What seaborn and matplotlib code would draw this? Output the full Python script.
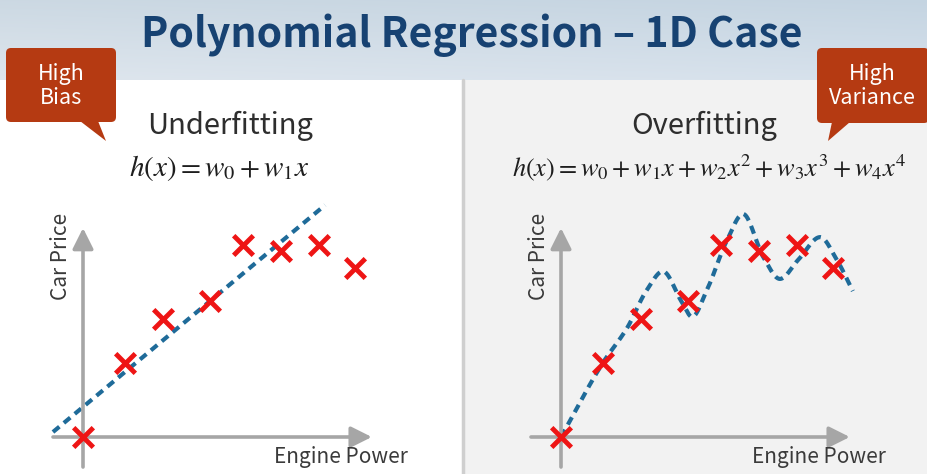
import numpy as np
import pandas as pd
import matplotlib
matplotlib.use("Agg")
import matplotlib.pyplot as plt
from matplotlib.patches import FancyBboxPatch, Polygon, Rectangle
import seaborn as sns

# ---------------- data ----------------
engine_power = [0.0, 1.1, 2.1, 3.35, 4.2, 5.2, 6.2, 7.15]
car_price = [0.0, 1.95, 3.1, 3.58, 5.05, 4.9, 5.05, 4.45]

# underfitting: straight line h(x) = w0 + w1 x
w0, w1 = 0.79, 0.834
line_x = [-0.79, 6.37]

# overfitting: wiggly curve through these read-off knots
curve_x = [0.0, 1.1, 1.74, 2.26, 2.68, 3.18, 3.45, 3.84, 4.37, 4.79, 5.32, 5.76, 6.24, 6.82, 7.26, 7.68]
curve_y = [0.0, 1.95, 2.87, 3.87, 4.36, 3.55, 3.16, 3.87, 5.18, 5.87, 4.74, 4.16, 4.66, 5.26, 4.66, 3.84]

title = "Polynomial Regression \u2013 1D Case"
panel_titles = ["Underfitting", "Overfitting"]
formulas = [r"$h(x) = w_0 + w_1 x$",
            r"$h(x) = w_0 + w_1 x + w_2 x^2 + w_3 x^3 + w_4 x^4$"]
callouts = ["High\nBias", "High\nVariance"]
xlabel = "Engine Power"
ylabel = "Car Price"


def pchip(xk, yk, n=40):
    xk = np.asarray(xk, float)
    yk = np.asarray(yk, float)
    h = np.diff(xk)
    d = np.diff(yk) / h
    m = np.zeros_like(yk)
    m[0], m[-1] = d[0], d[-1]
    for i in range(1, len(xk) - 1):
        if d[i - 1] * d[i] <= 0:
            m[i] = 0.0
        else:
            a = 2 * h[i] + h[i - 1]
            b = h[i] + 2 * h[i - 1]
            m[i] = (a + b) / (a / d[i - 1] + b / d[i])
    xs, ys = [], []
    for i in range(len(xk) - 1):
        t = np.linspace(0, 1, n, endpoint=(i == len(xk) - 2))
        h00 = 2 * t**3 - 3 * t**2 + 1
        h10 = t**3 - 2 * t**2 + t
        h01 = -2 * t**3 + 3 * t**2
        h11 = t**3 - t**2
        xs.append(xk[i] + t * h[i])
        ys.append(h00 * yk[i] + h10 * h[i] * m[i] + h01 * yk[i + 1] + h11 * h[i] * m[i + 1])
    return np.concatenate(xs), np.concatenate(ys)


sns.set_theme(style="white")
plt.rcParams["font.family"] = ["Noto Sans CJK KR", "DejaVu Sans"]
plt.rcParams["mathtext.fontset"] = "stix"

W, H = 927, 474
fig = plt.figure(figsize=(W / 100, H / 100), dpi=100)
fig.patch.set_facecolor("white")

# background / decoration axes in pixel coordinates
bg = fig.add_axes([0, 0, 1, 1])
bg.set_xlim(0, W)
bg.set_ylim(H, 0)
bg.axis("off")

# header gradient
grad = np.linspace(0, 1, 80)[:, None] * np.ones((1, 200))
horiz = np.linspace(0, 1, 200)[None, :] * np.ones((80, 1))
top = np.array([0.80, 0.85, 0.89])
bot = np.array([0.87, 0.90, 0.93])
img = top[None, None, :] * (1 - grad[..., None]) + bot[None, None, :] * grad[..., None]
img = img - 0.03 * horiz[..., None] * np.array([1.0, 0.6, 0.2])
bg.imshow(np.clip(img, 0, 1), extent=[0, W, 80, 0], aspect="auto", zorder=0)

# panels
bg.add_patch(Rectangle((0, 80), 463, H - 80, facecolor="white", edgecolor="none", zorder=1))
bg.add_patch(Rectangle((464, 80), W - 464, H - 80, facecolor="#f2f2f2", edgecolor="none", zorder=1))
bg.plot([463.5, 463.5], [80, H], color="#cfcfcf", lw=2.5, zorder=2)

bg.text(472, 47, title, ha="center", va="baseline", fontsize=29.5,
        color="#174272", fontweight="bold", zorder=3)

# callouts
box_color = "#b53a12"
bg.add_patch(FancyBboxPatch((6, 48), 110, 74, boxstyle="round,pad=0,rounding_size=5",
                            facecolor=box_color, edgecolor="none", zorder=3))
bg.add_patch(Polygon([(80, 121), (98, 121), (106, 141)], closed=True,
                     facecolor=box_color, edgecolor="none", zorder=3))
bg.add_patch(FancyBboxPatch((817, 48), 112, 75, boxstyle="round,pad=0,rounding_size=5",
                            facecolor=box_color, edgecolor="none", zorder=3))
bg.add_patch(Polygon([(832, 122), (850, 122), (828, 141)], closed=True,
                     facecolor=box_color, edgecolor="none", zorder=3))
bg.text(61, 86, callouts[0], ha="center", va="center", fontsize=15.5, color="white",
        linespacing=1.12, zorder=4)
bg.text(872, 86, callouts[1], ha="center", va="center", fontsize=15.5, color="white",
        linespacing=1.12, zorder=4)

# panel titles and formulas
for cx, ptitle, fx, formula, fs in [(230, panel_titles[0], 219, formulas[0], 21),
                                     (704, panel_titles[1], 709, formulas[1], 19)]:
    bg.text(cx, 134, ptitle, ha="center", va="baseline", fontsize=21, color="#2e2e2e", zorder=3)
    bg.text(fx, 176, formula, ha="center", va="baseline", fontsize=fs, color="#1e1e1e", zorder=3)

# ---------------- plot axes ----------------
xlim = ((40 - 83) / 38, (420 - 83) / 38)
ylim = ((437 - 470) / 38, (437 - 195) / 38)
ax_pos = [[40 / W, (H - 470) / H, 380 / W, 275 / H],
          [518 / W, (H - 470) / H, 380 / W, 275 / H]]

axes = []
for pos in ax_pos:
    ax = fig.add_axes(pos)
    ax.set_facecolor("none")
    ax.set_xlim(*xlim)
    ax.set_ylim(*ylim)
    ax.axis("off")
    arrow = dict(arrowstyle="-|>,head_length=0.7,head_width=0.35", color="#a6a6a6",
                 lw=2.6, shrinkA=0, shrinkB=0, mutation_scale=18)
    ax.annotate("", xy=(0, 5.5), xytext=(0, -0.79), arrowprops=arrow)
    ax.annotate("", xy=(7.6, 0), xytext=(-0.79, 0), arrowprops=arrow)
    ax.text(-0.58, 4.74, ylabel, rotation=90, ha="center", va="center",
            fontsize=15, color="#3a3a3a")
    ax.text(8.55, -0.53, xlabel, ha="right", va="center", fontsize=15, color="#3a3a3a")
    axes.append(ax)

dash = (0, (2.0, 1.4))
blue = "#1f6b99"
red = "#ee1515"

line_df = pd.DataFrame({"x": line_x, "y": [w0 + w1 * v for v in line_x]})
sns.lineplot(data=line_df, x="x", y="y", ax=axes[0], color=blue, linewidth=3,
             linestyle=dash, estimator=None, sort=False, legend=False, zorder=2)

cx_s, cy_s = pchip(curve_x, curve_y)
curve_df = pd.DataFrame({"x": cx_s, "y": cy_s})
sns.lineplot(data=curve_df, x="x", y="y", ax=axes[1], color=blue, linewidth=3,
             linestyle=dash, estimator=None, sort=False, legend=False, zorder=2)

pts = pd.DataFrame({"x": engine_power, "y": car_price})
for ax in axes:
    sns.scatterplot(data=pts, x="x", y="y", ax=ax, marker="x", s=200, color=red,
                    linewidth=3.5, legend=False, zorder=3)
    ax.set_xlim(*xlim)
    ax.set_ylim(*ylim)
    ax.axis("off")

fig.savefig("out.png", dpi=100)
